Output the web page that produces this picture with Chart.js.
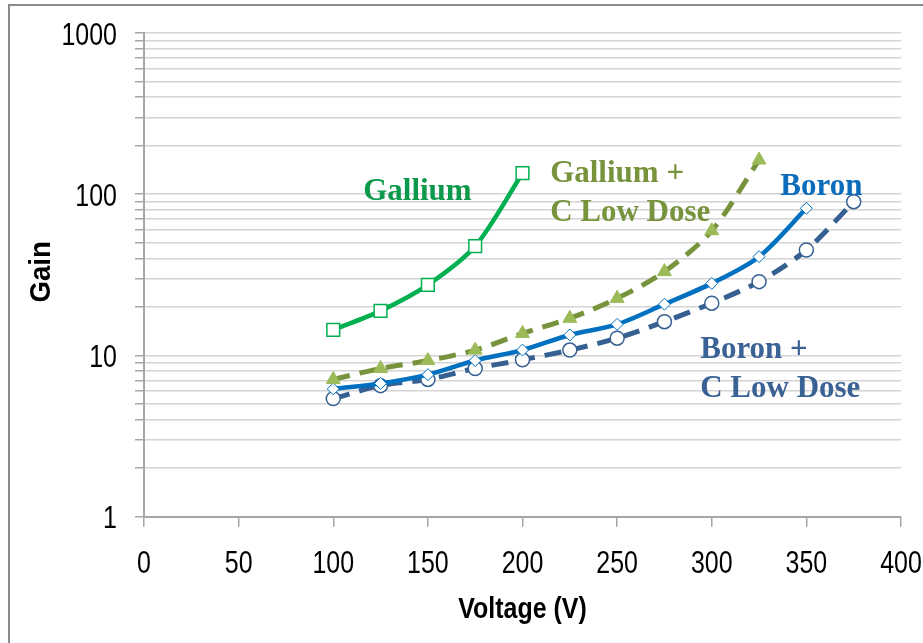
<!DOCTYPE html>
<html>
<head>
<meta charset="utf-8">
<title>Gain vs Voltage</title>
<script src="https://cdn.jsdelivr.net/npm/chart.js@4.4.1/dist/chart.umd.min.js"></script>
<style>
  html, body { margin: 0; padding: 0; background: #fff; }
  .chart-box { position: relative; width: 923px; height: 643px; }
  .frame {
    position: absolute; left: 8px; top: 4px; right: 0; bottom: 0;
    border-left: 2px solid #8a8a8a; border-top: 2px solid #8a8a8a;
    pointer-events: none;
  }
</style>
</head>
<body>
<div class="chart-box">
  <canvas id="chart"></canvas>
  <div class="frame"></div>
</div>
<script>
// voltages (V) for each series
const galliumV = [100, 125, 150, 175, 200]
const galliumCV = [100, 125, 150, 175, 200, 225, 250, 275, 300, 325]
const boronV = [100, 125, 150, 175, 200, 225, 250, 275, 300, 325, 350]
const boronCV = [100, 125, 150, 175, 200, 225, 250, 275, 300, 325, 350, 375]

// gain values
const galliumGain = [14.4, 18.9, 27.4, 47.7, 135]
const galliumCGain = [7.1, 8.3, 9.3, 10.8, 13.7, 17.0, 22.6, 33.1, 59.4, 163]
const boronGain = [6.2, 6.7, 7.6, 9.3, 10.8, 13.4, 15.6, 20.8, 28.0, 41.0, 81.8]
const boronCGain = [5.4, 6.5, 7.1, 8.3, 9.4, 10.8, 12.8, 16.2, 21.1, 28.7, 45.1, 89.9]

// axis ticks
const yTickValues = [1, 2, 3, 4, 5, 6, 7, 8, 9, 10, 20, 30, 40, 50, 60, 70, 80, 90,
  100, 200, 300, 400, 500, 600, 700, 800, 900, 1000]
const yTickLabels = [1, 10, 100, 1000]
const xTitle = 'Voltage (V)'
const yTitle = 'Gain'

const toXY = (xs, ys) => xs.map((x, i) => ({ x, y: ys[i] }))

// narrow sans look for the axis text (squeezed horizontally)
const TICK_FONT = '32px "Liberation Sans", Arial, sans-serif'
const TITLE_FONT = 'bold 29px "Liberation Sans", Arial, sans-serif'
const SQUEEZE = 0.78
const TITLE_SQUEEZE = 0.86
const LABEL_FONT = 'bold 31px "Liberation Serif", "Times New Roman", serif'

// in-chart series labels, anchored at data coordinates (first line baseline)
const seriesLabels = [
  { lines: ['Gallium'], x: 115.8, y: 92, color: '#0c9a4a' },
  { lines: ['Gallium +', 'C Low Dose'], x: 214.6, y: 119, color: '#77933c' },
  { lines: ['Boron'], x: 336.2, y: 99, color: '#0a6cba' },
  { lines: ['Boron +', 'C Low Dose'], x: 293.9, y: 9.65, color: '#3a6295' }
]

function squeezedText(ctx, text, x, y, sx, align) {
  ctx.save()
  ctx.translate(x, y)
  ctx.scale(sx, 1)
  ctx.textAlign = align
  ctx.fillText(text, 0, 0)
  ctx.restore()
}

const axisTextPlugin = {
  id: 'axisText',
  afterDraw(chart) {
    const { ctx, chartArea, scales: { x, y } } = chart
    ctx.save()
    ctx.fillStyle = '#000'
    ctx.textBaseline = 'alphabetic'
    ctx.font = TICK_FONT
    x.ticks.forEach(t => {
      squeezedText(ctx, String(t.value), x.getPixelForValue(t.value), chartArea.bottom + 56.5, SQUEEZE, 'center')
    })
    y.ticks.forEach(t => {
      if (!yTickLabels.includes(t.value)) return
      squeezedText(ctx, String(t.value), chartArea.left - 27, y.getPixelForValue(t.value) + 11.5, SQUEEZE, 'right')
    })
    ctx.font = TITLE_FONT
    squeezedText(ctx, xTitle, (chartArea.left + chartArea.right) / 2, chartArea.bottom + 101.5, TITLE_SQUEEZE, 'center')
    ctx.save()
    ctx.translate(42, (chartArea.top + chartArea.bottom) / 2 - 3)
    ctx.rotate(-Math.PI / 2)
    ctx.scale(0.95, 1)
    ctx.textAlign = 'center'
    ctx.textBaseline = 'middle'
    ctx.fillText(yTitle, 0, 0)
    ctx.restore()
    ctx.restore()
  }
}

const labelPlugin = {
  id: 'seriesLabels',
  afterDatasetsDraw(chart) {
    const { ctx, scales: { x, y } } = chart
    ctx.save()
    ctx.font = LABEL_FONT
    ctx.textAlign = 'left'
    ctx.textBaseline = 'alphabetic'
    seriesLabels.forEach(l => {
      const px = x.getPixelForValue(l.x)
      const py = y.getPixelForValue(l.y)
      ctx.fillStyle = l.color
      l.lines.forEach((t, i) => ctx.fillText(t, px, py + i * 39))
    })
    ctx.restore()
  }
}

new Chart(document.getElementById('chart'), {
  type: 'line',
  data: {
    datasets: [
      {
        label: 'Gallium',
        data: toXY(galliumV, galliumGain),
        borderColor: '#00b050',
        borderWidth: 4.5,
        tension: 0.3,
        pointStyle: 'rect',
        pointRadius: 9,
        pointBackgroundColor: '#ffffff',
        pointBorderColor: '#00b050',
        pointBorderWidth: 1.5
      },
      {
        label: 'Gallium + C Low Dose',
        data: toXY(galliumCV, galliumCGain),
        borderColor: '#77933c',
        borderWidth: 5,
        borderDash: [17, 10],
        tension: 0.3,
        pointStyle: 'triangle',
        pointRadius: 8,
        pointBackgroundColor: '#9bbb59',
        pointBorderColor: '#9bbb59',
        pointBorderWidth: 1
      },
      {
        label: 'Boron',
        data: toXY(boronV, boronGain),
        borderColor: '#0070c0',
        borderWidth: 4.5,
        tension: 0.3,
        pointStyle: 'rectRot',
        pointRadius: 6,
        pointBackgroundColor: '#ffffff',
        pointBorderColor: '#0070c0',
        pointBorderWidth: 1
      },
      {
        label: 'Boron + C Low Dose',
        data: toXY(boronCV, boronCGain),
        borderColor: '#376092',
        borderWidth: 5,
        borderDash: [17, 10],
        tension: 0.3,
        pointStyle: 'circle',
        pointRadius: 7,
        pointBackgroundColor: '#ffffff',
        pointBorderColor: '#376092',
        pointBorderWidth: 1.5
      }
    ]
  },
  options: {
    responsive: true,
    maintainAspectRatio: false,
    animation: false,
    layout: { padding: { top: 33, right: 22, bottom: 0, left: 0 } },
    plugins: {
      legend: { display: false },
      tooltip: { enabled: false }
    },
    scales: {
      x: {
        type: 'linear',
        min: 0,
        max: 400,
        ticks: { stepSize: 50, display: false },
        grid: {
          drawOnChartArea: false,
          drawTicks: true,
          tickLength: 10,
          tickColor: '#a6a6a6',
          lineWidth: 1.5
        },
        border: { color: '#a6a6a6', width: 2 },
        afterFit(scale) { scale.height = 126.3 }
      },
      y: {
        type: 'logarithmic',
        min: 1,
        max: 1000,
        afterBuildTicks(scale) {
          scale.ticks = yTickValues.map(v => ({ value: v, major: yTickLabels.includes(v) }))
        },
        ticks: { autoSkip: false, display: false },
        grid: {
          color: '#d4d4d4',
          lineWidth: 1.5,
          tickLength: 9,
          tickColor: '#a6a6a6'
        },
        border: { color: '#a6a6a6', width: 2 },
        afterFit(scale) { scale.width = 144 }
      }
    }
  },
  plugins: [labelPlugin, axisTextPlugin]
})
</script>
</body>
</html>
